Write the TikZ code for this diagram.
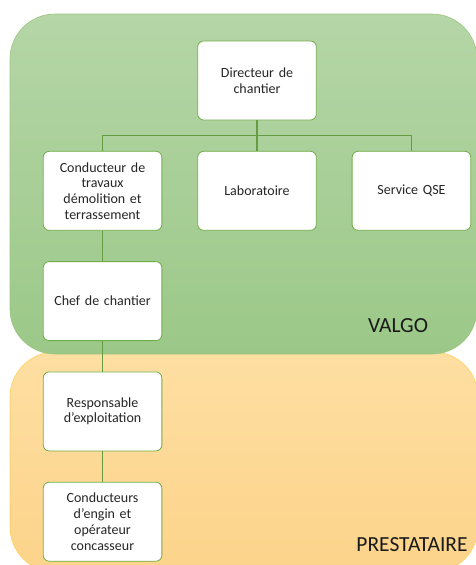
\documentclass[tikz,border=0pt]{standalone}
\usepackage{fontspec}
\setmainfont{Carlito}
\usepackage{tikz}
\usetikzlibrary{positioning}
\definecolor{boxgreen}{HTML}{70AD47}
\definecolor{zonegreentop}{HTML}{B5D6A7}
\definecolor{zonegreenbot}{HTML}{9BC888}
\definecolor{zoneorangetop}{HTML}{FEDFA2}
\definecolor{zoneorangebot}{HTML}{FCD38A}
\definecolor{zoneorangeline}{HTML}{FFD25A}
\definecolor{txtgray}{HTML}{262626}

\begin{document}
\begin{tikzpicture}[
            x=1pt, y=1pt,
            node distance=30.5pt and 35pt, % gaps between the boxes
            orgbox/.style={draw=boxgreen, line width=0.8pt, fill=white, rounded corners=6pt,
                minimum width=118pt, minimum height=79pt, text width=112pt, align=center,
                text=txtgray, font=\fontsize{14}{15.7}\selectfont},
            link/.style={draw=boxgreen!90!black, line width=1.1pt},
            zonelabel/.style={text=black!90, font=\fontsize{21.5}{25}\selectfont}
        ]
            \useasboundingbox (0,0) rectangle (475,-565);

            % the two zones
            \draw[zoneorangeline, line width=0.6pt, rounded corners=45pt,
                top color=zoneorangetop, bottom color=zoneorangebot] (10,-352) rectangle (478,-572);
            \draw[boxgreen!70, line width=0.6pt, rounded corners=45pt,
                top color=zonegreentop, bottom color=zonegreenbot] (10,-14) rectangle (477,-354);
            \node[zonelabel] (valgo) at (398,-326) {VALGO};
            \node[zonelabel] (prest) at (412,-545) {PRESTATAIRE};

            % boxes
            \node[orgbox] (dir) at (257,-80.5) {Directeur de\\chantier};
            \node[orgbox, below=of dir] (labo) {Laboratoire};
            \node[orgbox, left=of labo] (cond) {Conducteur de\\travaux\\démolition et\\terrassement};
            \node[orgbox, right=of labo] (qse) {Service QSE};
            \node[orgbox, below=of cond] (chef) {Chef de chantier};
            \node[orgbox, below=of chef] (resp) {Responsable\\d’exploitation};
            \node[orgbox, below=of resp] (engin) {Conducteurs\\d’engin et\\opérateur\\concasseur};

            % links
            \draw[link] (dir.south) -- ++(0,-15) coordinate (bus);
            \draw[link] (cond.north) |- (bus) -| (qse.north);
            \draw[link] (bus) -- (labo.north);
            \draw[link] (cond) -- (chef);
            \draw[link] (chef) -- (resp);
            \draw[link] (resp) -- (engin);
        \end{tikzpicture}
\end{document}
